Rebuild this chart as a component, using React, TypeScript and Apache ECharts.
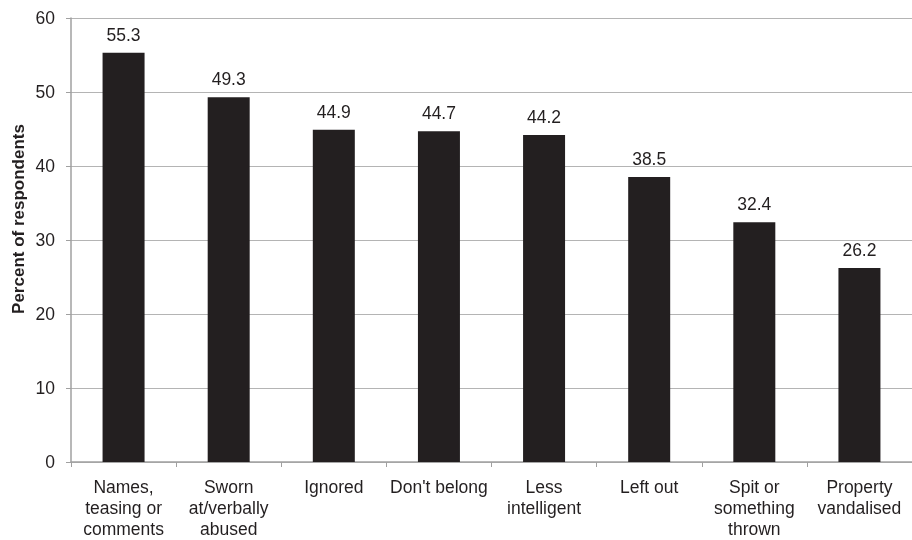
import React, { useEffect, useRef } from "react";
import * as echarts from "echarts";

const categories = [
  "Names,\nteasing or\ncomments",
  "Sworn\nat/verbally\nabused",
  "Ignored",
  "Don't belong",
  "Less\nintelligent",
  "Left out",
  "Spit or\nsomething\nthrown",
  "Property\nvandalised",
];
const values = [55.3, 49.3, 44.9, 44.7, 44.2, 38.5, 32.4, 26.2];
const yTitle = "Percent of respondents";

export default function App() {
  const ref = useRef<HTMLDivElement>(null);
  useEffect(() => {
    const chart = echarts.init(ref.current!, null, { renderer: "svg" });
    const font = "'Liberation Sans', Arial, sans-serif";
    chart.setOption({
      animation: false,
      textStyle: { fontFamily: font },
      grid: { left: 71, top: 18, width: 845, height: 444, containLabel: false },
      graphic: [
        {
          type: "text",
          x: 18,
          y: 219,
          rotation: Math.PI / 2,
          style: {
            text: yTitle,
            fontSize: 17,
            fontWeight: "bold",
            fill: "#231f20",
            fontFamily: font,
            textAlign: "center",
            textVerticalAlign: "middle",
          },
        },
      ],
      xAxis: {
        type: "category",
        data: categories,
        axisLine: { lineStyle: { color: "#a0a0a0", width: 1.5 } },
        axisTick: { show: true, length: 5, alignWithLabel: false, lineStyle: { color: "#a0a0a0" } },
        axisLabel: { color: "#231f20", fontSize: 17.5, lineHeight: 21, margin: 14, fontFamily: font, interval: 0 },
      },
      yAxis: {
        type: "value",
        min: 0,
        max: 60,
        interval: 10,
        axisLine: { show: true, lineStyle: { color: "#a0a0a0", width: 1.5 } },
        axisTick: { show: true, length: 5, lineStyle: { color: "#a0a0a0" } },
        axisLabel: { color: "#231f20", fontSize: 17.5, margin: 16, fontFamily: font },
        splitLine: { lineStyle: { color: "#b4b4b4", width: 1 } },
      },
      series: [
        {
          type: "bar",
          data: values,
          barWidth: 42,
          itemStyle: { color: "#231f20" },
          label: {
            show: true,
            position: "top",
            distance: 9,
            color: "#231f20",
            fontSize: 17.5,
            fontFamily: font,
            formatter: (p: any) => p.value.toFixed(1),
          },
        },
      ],
    });
    return () => chart.dispose();
  }, []);
  return (
    <div
      ref={ref}
      style={{ position: "fixed", left: 0, top: 0, width: 912, height: 540 }}
    />
  );
}
